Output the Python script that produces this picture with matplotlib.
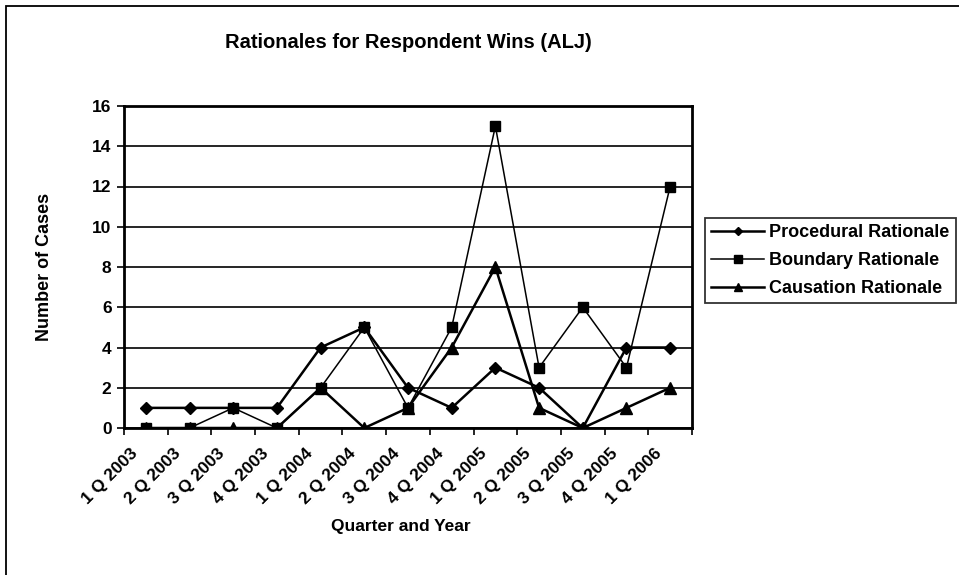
import matplotlib
matplotlib.use("Agg")
import matplotlib.pyplot as plt
from matplotlib.patches import Rectangle
from matplotlib.transforms import ScaledTranslation

categories = ["1 Q 2003", "2 Q 2003", "3 Q 2003", "4 Q 2003", "1 Q 2004", "2 Q 2004",
              "3 Q 2004", "4 Q 2004", "1 Q 2005", "2 Q 2005", "3 Q 2005", "4 Q 2005", "1 Q 2006"]
procedural = [1, 1, 1, 1, 4, 5, 2, 1, 3, 2, 0, 4, 4]
boundary = [0, 0, 1, 0, 2, 5, 1, 5, 15, 3, 6, 3, 12]
causation = [0, 0, 0, 0, 2, 0, 1, 4, 8, 1, 0, 1, 2]
series_names = ["Procedural Rationale", "Boundary Rationale", "Causation Rationale"]

plt.rcParams['font.family'] = ['Liberation Sans', 'DejaVu Sans']
plt.rcParams['font.weight'] = 'bold'

W, H = 959, 575
fig = plt.figure(figsize=(W / 100, H / 100), dpi=100)

# outer chart border (top and left visible; the rest is cut off)
fig.patches.append(Rectangle((6 / W, -0.05), 1.2, 1 - 6 / H + 0.05, transform=fig.transFigure,
                             fill=False, edgecolor='black', linewidth=1.3))

left, right, top, bottom = 124, 692, 106, 428
ax = fig.add_axes([left / W, 1 - bottom / H, (right - left) / W, (bottom - top) / H])

x = list(range(len(categories)))
ax.plot(x, procedural, color='black', lw=1.8, marker='D', ms=6.5, label=series_names[0])
ax.plot(x, boundary, color='black', lw=1.1, marker='s', ms=7.5, label=series_names[1])
ax.plot(x, causation, color='black', lw=1.8, marker='^', ms=8, label=series_names[2])

ax.set_xlim(-0.5, len(categories) - 0.5)
ax.set_ylim(0, 16)
ax.set_yticks(range(0, 17, 2))
ax.yaxis.grid(True, color='black', lw=1.2)
ax.set_axisbelow(True)

ax.set_xticks([i - 0.5 for i in range(len(categories) + 1)], minor=False)
ax.set_xticklabels([])
ax.set_xticks(x, minor=True)
ax.set_xticklabels(categories, minor=True, rotation=45, ha='right', va='top',
                   fontsize=12.5, fontweight='bold', rotation_mode='anchor')
ax.tick_params(axis='x', which='minor', length=0, pad=0)
ax.tick_params(axis='x', which='major', length=5, direction='out', width=1.2)
ax.tick_params(axis='y', length=5, direction='out', width=1.2, labelsize=12.5, pad=4)
for lbl in ax.get_yticklabels():
    lbl.set_fontweight('bold')
off = ScaledTranslation(-16 / 100, -18 / 100, fig.dpi_scale_trans)
for lbl in ax.get_xticklabels(minor=True):
    lbl.set_transform(lbl.get_transform() + off)

for s in ax.spines.values():
    s.set_linewidth(2)

fig.text(45 / W, 1 - 267 / H, "Number of Cases", rotation=90, ha='center', va='center',
         fontsize=13, fontweight='bold')
fig.text(401 / W, 1 - 527 / H, "Quarter and Year", ha='center', va='center',
         fontsize=12.5, fontweight='bold')
fig.text(408 / W, 1 - 42 / H, "Rationales for Respondent Wins (ALJ)", ha='center', va='center',
         fontsize=14.5, fontweight='bold')

leg = fig.legend(loc='upper left', bbox_to_anchor=(705 / W, 1 - 218 / H), fontsize=13,
                 frameon=True, fancybox=False, edgecolor='black', handlelength=2.9,
                 borderpad=0.35, labelspacing=0.6, handletextpad=0.3, borderaxespad=0,
                 markerscale=0.7)
leg.get_frame().set_linewidth(1.3)
for t in leg.get_texts():
    t.set_fontweight('bold')

fig.savefig("out.png", dpi=100)
